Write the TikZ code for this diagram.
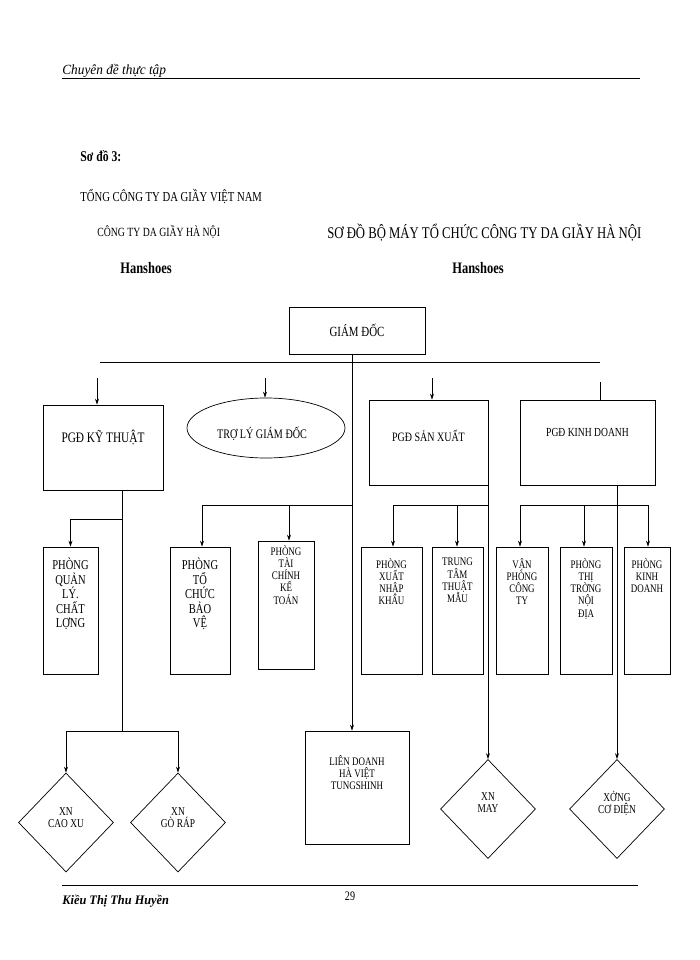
\documentclass[tikz,border=0pt]{standalone}
\usepackage{fontspec}
\setmainfont{Liberation Serif}[FakeStretch=0.78]
\newfontfamily\hdfont{Liberation Serif}[FakeStretch=0.95]
\usetikzlibrary{arrows.meta,shapes.geometric}
\begin{document}
\begin{tikzpicture}[x=1pt,y=-1pt,
  line width=0.7pt,
  box/.style={draw,rectangle,minimum width=#1},
  txt/.style={font=\fontsize{12}{12}\selectfont,align=center,inner sep=0pt},
  lbl/.style={font=\fontsize{13.5}{14.5}\selectfont,align=center,inner sep=0pt,anchor=north},
  slbl/.style={lbl,font=\fontsize{11.5}{12.2}\selectfont},
  arr/.style={-{Stealth[length=6pt,width=4pt]}},
  dia/.style={draw,diamond,minimum width=95pt,minimum height=99pt,inner sep=0pt,aspect=1}]
\useasboundingbox (0,0) rectangle (700,960);
% header/footer
\node[anchor=base west,inner sep=0pt,font=\hdfont\itshape\fontsize{14}{14}\selectfont] (hd) at (62,75) {Chuyên đề thực tập};
\draw (hd.base west)++(0,3) coordinate (h1) -- (640,78) coordinate (h2);
\draw (62,885) coordinate (f1) -- (638,885) coordinate (f2);
\node[anchor=base west,inner sep=0pt,font=\hdfont\itshape\bfseries\fontsize{13}{13}\selectfont] (ft) at (62,904) {Kiều Thị Thu Huyền};
\node[anchor=base,inner sep=0pt,font=\fontsize{13}{13}\selectfont] (pg) at (350,900) {29};
% titles
\node[anchor=base west,inner sep=0pt,font=\bfseries\fontsize{15}{15}\selectfont] (t1) at (80,161) {Sơ đồ 3:};
\node[anchor=base west,inner sep=0pt,font=\fontsize{13.7}{13.7}\selectfont] (t2) at (80,201) {TỔNG CÔNG TY DA GIẦY VIỆT NAM};
\node[anchor=base west,inner sep=0pt,font=\fontsize{12.5}{12.5}\selectfont] (t3) at (97,236) {CÔNG TY DA GIẦY HÀ NỘI};
\node[anchor=base west,inner sep=0pt,font=\fontsize{16.3}{16.3}\selectfont] (t4) at (327,238) {SƠ ĐỒ BỘ MÁY TỔ CHỨC CÔNG TY DA GIẦY HÀ NỘI};
\node[anchor=base,inner sep=0pt,font=\bfseries\fontsize{16}{16}\selectfont] (t5) at (146,273) {Hanshoes};
\node[anchor=base,inner sep=0pt,font=\bfseries\fontsize{16}{16}\selectfont] (t6) at (478,273) {Hanshoes};
% top
\node[box=136pt,minimum height=47pt,txt,font=\fontsize{14}{14}\selectfont] (gd) at (357,330.5) {GIÁM ĐỐC};
\draw (100,362) coordinate (hl) -- (600,362) coordinate (hr);
\node[box=120pt,minimum height=85pt] (kt) at (103,447.5) {};
\node[txt,font=\fontsize{14.5}{14.5}\selectfont] (ktt) at (103,437) {PGĐ KỸ THUẬT};
\node[draw,ellipse,minimum width=158pt,minimum height=60pt] (tl) at (266,428) {};
\node[txt,font=\fontsize{13}{13}\selectfont] (tlt) at (262,434) {TRỢ LÝ GIÁM ĐỐC};
\node[box=119pt,minimum height=85pt] (sx) at (428.5,442.5) {};
\node[txt,font=\fontsize{12.8}{12.8}\selectfont] (sxt) at (428.5,436) {PGĐ SẢN XUẤT};
\node[box=135pt,minimum height=85pt] (kd) at (587.5,442.5) {};
\node[txt,font=\fontsize{12.3}{12.3}\selectfont] (kdt) at (587.5,432) {PGĐ KINH DOANH};
\coordinate (a1) at (97,378); \coordinate (a2) at (265,378);
\coordinate (a3) at (432,378); \coordinate (a4) at (600,382);
\draw[arr] (a1) -- (a1 |- kt.north);
\draw[arr] (a2) -- (a2 |- tl.north);
\draw[arr] (a3) -- (a3 |- sx.north);
\draw (a4) -- (a4 |- kd.north);
% second row boxes
\node[box=55pt,minimum height=127pt] (ql) at (70.5,610.5) {};
\node[lbl] (qlt) at (70.5,558) {PHÒNG\\QUẢN\\LÝ.\\CHẤT\\LỢNG};
\node[box=60pt,minimum height=127pt] (tc) at (200,610.5) {};
\node[lbl] (tct) at (200,558) {PHÒNG\\TỔ\\CHỨC\\BẢO\\VỆ};
\node[box=56pt,minimum height=128pt] (tk) at (286,605) {};
\node[slbl] (tkt) at (286,545) {PHÒNG\\TÀI\\CHÍNH\\KẾ\\TOÁN};
\node[box=61pt,minimum height=127pt] (xn) at (391.5,610.5) {};
\node[slbl] (xnt) at (391.5,558) {PHÒNG\\XUẤT\\NHẬP\\KHẨU};
\node[box=51pt,minimum height=127pt] (tt) at (457.5,610.5) {};
\node[slbl] (ttt) at (457.5,558) {TRUNG\\TÂM\\THUẬT\\MẪU};
\node[box=52pt,minimum height=127pt] (vp) at (522,610.5) {};
\node[slbl] (vpt) at (522,558) {VẬN\\PHÒNG\\CÔNG\\TY};
\node[box=52pt,minimum height=127pt] (tr) at (586,610.5) {};
\node[slbl] (trt) at (586,558) {PHÒNG\\THỊ\\TRỜNG\\NỘI\\ĐỊA};
\node[box=46pt,minimum height=127pt] (pk) at (647,610.5) {};
\node[slbl] (pkt) at (647,558) {PHÒNG\\KINH\\DOANH};
% bottom
\node[box=104pt,minimum height=113pt] (ld) at (357,787.5) {};
\node[slbl] (ldt) at (357,755) {LIÊN DOANH\\HÀ VIỆT\\TUNGSHINH};
\node[dia] (cx) at (66,822.5) {};
\node[txt,font=\fontsize{12}{12}\selectfont] (cxt) at (66,818) {XN\\CAO XU};
\node[dia] (gr) at (178,822.5) {};
\node[txt,font=\fontsize{12}{12}\selectfont] (grt) at (178,818) {XN\\GÒ RÁP};
\node[dia] (my) at (488,809) {};
\node[txt,font=\fontsize{12}{12}\selectfont] (myt) at (488,803) {XN\\MAY};
\node[dia] (cd) at (617,809) {};
\node[txt,font=\fontsize{12}{12}\selectfont] (cdt) at (617,803) {XỞNG\\CƠ ĐIỆN};
% connectors
\coordinate (v1) at (122,490);
\draw (v1) -- (122,731) coordinate (v1b);
\draw[arr] (122,519) -| (ql.north);
\draw[arr] (66,731) -- (cx.north);
\draw[arr] (178,731) -- (gr.north);
\draw (cx.north |- v1b) -- (gr.north |- v1b);
\draw[arr] (352,354) -- (352,0 |- ld.north);
\draw[arr] (352,505) -| (202,0 |- tc.north);
\draw[arr] (289,505) -- (289,0 |- tk.north);
\draw[arr] (488,485) -- (my.north);
\draw[arr] (488,505) -| (393,0 |- xn.north);
\draw[arr] (457,505) -- (457,0 |- tt.north);
\draw[arr] (617,485) -- (cd.north);
\draw[arr] (520,505) -- (520,0 |- vp.north);
\draw (520,505) -- (648,505);
\draw[arr] (584,505) -- (584,0 |- tr.north);
\draw[arr] (648,505) -- (648,0 |- pk.north);
\end{tikzpicture}
\end{document}
